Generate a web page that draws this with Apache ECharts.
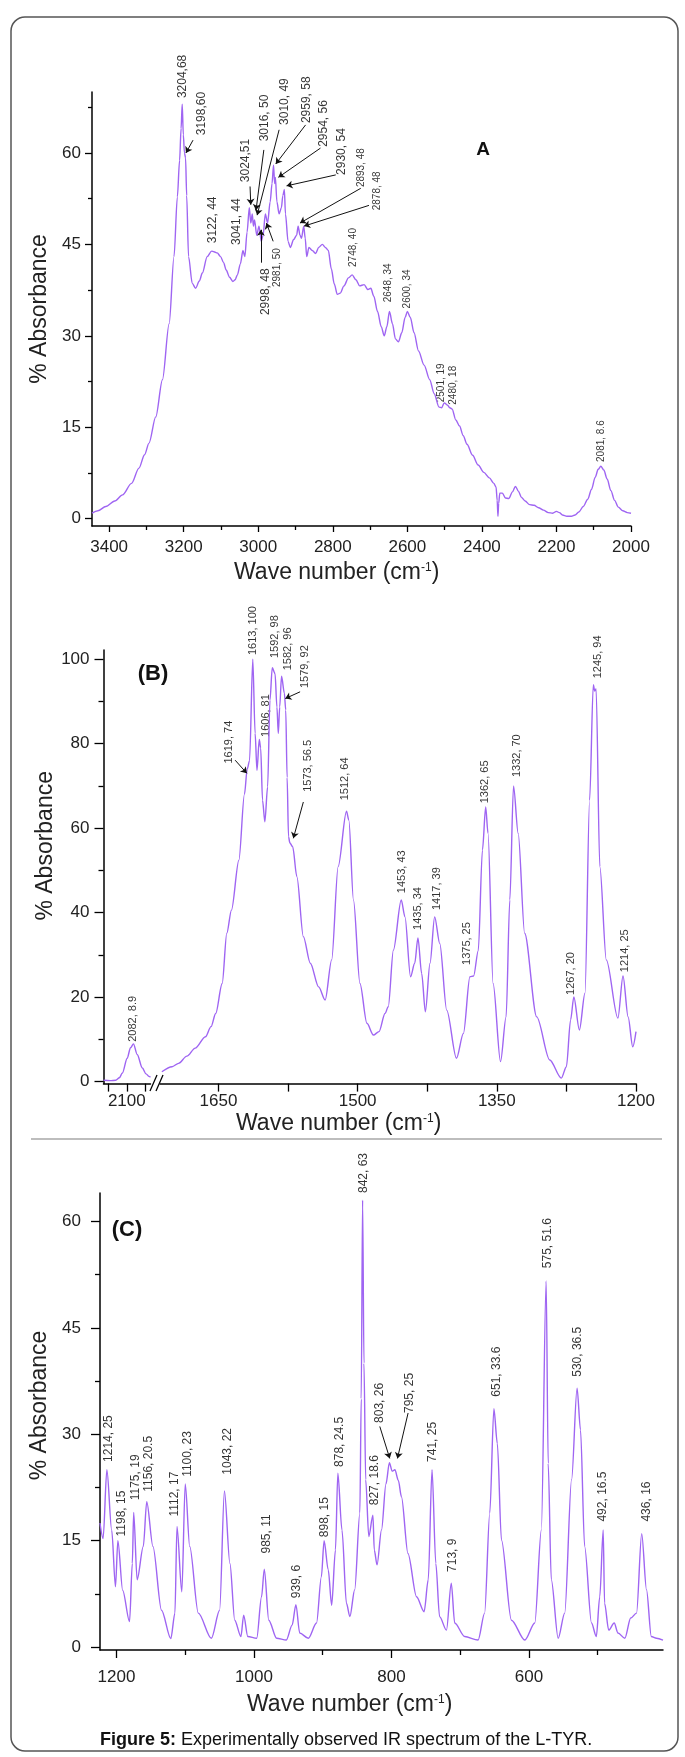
<!DOCTYPE html>
<html>
<head>
<meta charset="utf-8">
<title>Figure 5 - IR spectrum of L-TYR</title>
<script src="https://cdn.jsdelivr.net/npm/echarts@6/dist/echarts.min.js"></script>
<style>
    html, body { margin: 0; padding: 0; background: #fff; }
    #chart { width: 685px; height: 1757px; }
</style>
</head>
<body>
<div id="chart"></div>
<script>
var FONT = 'Arial, "Liberation Sans", sans-serif';
var LINE = '#9f65f2';

/* ---- panel A : 3446 - 2000 cm-1, [wave number, % absorbance] ---- */
var specA = [
    [3446,0.9],[3430,1.3],[3409,2],[3385,2.9],[3364,3.9],[3340,5.8],[3320,8.3],[3305,10.5],[3293,12.4],
    [3275,16.7],[3257,22.8],[3239,32],[3226,43],[3217,52.8],[3211,58.8],[3207,64],[3204,68],[3201,63],
    [3198,60],[3195,59.2],[3192,53],[3187,43],[3177,38.6],[3168,37.8],[3158,39],[3150,40.3],[3137,43],
    [3125,43.9],[3119,43.8],[3110,43.6],[3101,43],[3093,42],[3086,40.8],[3077,39.6],[3068,38.9],[3062,39.2],
    [3056,40],[3048,41.8],[3041,44],[3036,43],[3030,47],[3024,51],[3020,48.5],[3016,50],[3013,48],[3010,49],
    [3004,46.5],[2998,48],[2992,45.5],[2987,46.5],[2981,50],[2975,48.5],[2968,52],[2963,55],[2959,58],
    [2956,55],[2954,56],[2950,52],[2944,50],[2938,51],[2934,53],[2930,54],[2927,50],[2920,45.5],[2914,44.5],
    [2905,45.8],[2897,46.5],[2893,48],[2888,46.5],[2884,46],[2878,48],[2874,46],[2870,43],[2864,44.5],
    [2855,44],[2846,43.5],[2838,44.5],[2828,45],[2820,44.5],[2812,44],[2804,41],[2796,38.5],[2788,36.8],
    [2780,37],[2770,38.2],[2758,39.5],[2748,40],[2738,39.2],[2728,38.2],[2716,38.4],[2706,37.6],[2698,37.8],
    [2690,36.5],[2680,34],[2670,31.5],[2662,30],[2655,31.5],[2648,34],[2640,32],[2632,29.5],[2624,29],
    [2615,30.5],[2606,33],[2600,34],[2592,33],[2582,30.5],[2570,27.5],[2555,25.2],[2540,22.8],[2528,20.5],
    [2515,18.3],[2508,18.2],[2501,19],[2492,18.6],[2486,18.2],[2480,18],[2470,16.2],[2460,15.2],[2450,13.6],
    [2440,12.2],[2425,10.4],[2410,8.8],[2395,7.6],[2380,6.7],[2368,5.8],[2362,5.2],[2359,3],[2357,0.4],
    [2355,2.5],[2352,4.2],[2345,4.2],[2337,3.4],[2328,3.3],[2318,4.4],[2310,5.3],[2302,4.5],[2294,3.5],
    [2284,2.9],[2272,2.3],[2260,2.2],[2248,1.8],[2235,1.4],[2222,1],[2210,0.9],[2200,1.2],[2192,1],
    [2184,0.6],[2172,0.4],[2160,0.4],[2150,0.6],[2140,1.1],[2128,2],[2116,3.2],[2106,4.8],[2096,6.8],
    [2088,8.1],[2081,8.6],[2073,8],[2064,6.5],[2054,4.6],[2044,3],[2034,1.9],[2022,1.3],[2010,1],[2000,0.9]
];
// [wave number, absorbance at the foot of the text, text]
var labelsA = [
    [3204,69,'3204,68'],[3151,62.9,'3198,60'],[3121,45.2,'3122, 44'],[3057,44.9,'3041, 44'],
    [3033,55.2,'3024,51'],[2982,61.9,'3016, 50'],[2928,64.6,'3010, 49'],[2869,64.9,'2959, 58'],
    [2824,61,'2954, 56'],[2776,56.4,'2930, 54'],[2980,33.4,'2998, 48']
];
var smallLabelsA = [
    [2725,54.4,'2893, 48'],[2682,50.6,'2878, 48'],[2950,38,'2981, 50'],[2746,41.3,'2748, 40'],
    [2652,35.5,'2648, 34'],[2601,34.5,'2600, 34'],[2510,19.1,'2501, 19'],[2478,18.7,'2480, 18'],
    [2080,9.3,'2081, 8.6']
];
// [from wave, from abs, to wave, to abs]
var arrowsA = [
    [3175,62.1,3194,60],[3022,54.5,3020,51.5],[2985,60.5,3006,50.6],[2944,63.8,3003,49.8],
    [2873,64.6,2953,58.2],[2833,60.8,2946,56],[2792,56.4,2924,54.6],[2725,54.2,2888,48.5],
    [2703,51.4,2877,48],[2993,42,2993,47.4],[2960,45.5,2978,48.5]
];
var ticksAx = [2000,2200,2400,2600,2800,3000,3200,3400];
var minorAx = [2100,2300,2500,2700,2900,3100,3300];
var ticksAy = [0,15,30,45,60];
var minorAy = [7.5,22.5,37.5,52.5,67.5];

/* ---- panel B : broken axis 2163 - 2036 | 1713 - 1200 cm-1 ---- */
var specBLeft = [
    [2163,0.3],[2145,0.2],[2130,0.3],[2120,0.9],[2112,2],[2099,5.5],[2090,8],[2082,8.9],[2072,6.4],
    [2058,3.2],[2048,1.8],[2040,1.2],[2036,1]
];
var specB = [
    [1711,2.3],[1700,3.5],[1693,4.3],[1684,6],[1675,7.9],[1664,10.6],[1658,13],[1653,16.1],[1646,23.2],
    [1641,35.1],[1636,40.6],[1628,52.4],[1622,68],[1619,74],[1616.5,76],[1613,100],[1610.5,82.5],
    [1608.5,73.7],[1606,81],[1604.5,79],[1602.5,66.6],[1600,61.5],[1597,69.8],[1594.5,90.3],[1592,98],
    [1589,96.6],[1587,88.7],[1585.5,82.4],[1584,88.7],[1582,96],[1579,92],[1577.5,88],[1576,72],
    [1574.5,58],[1573,56.5],[1570,55.6],[1565.5,48.5],[1558.5,34.3],[1551,28],[1542,22.4],[1535,19.3],
    [1528,28.8],[1521,50.9],[1512,64],[1509.5,61.9],[1504.5,43],[1497.5,23.2],[1490,13.8],[1483,11],
    [1477,11.8],[1470.5,16.1],[1467,17.7],[1461.5,31.1],[1453,43],[1449,39],[1443,24.8],[1438.5,28],
    [1435,34],[1431,25.6],[1427,16.5],[1422,28],[1417,39],[1411.5,32.7],[1404,16.9],[1393.5,5.5],
    [1386,11.4],[1379,24.8],[1375,25],[1370,31],[1365.5,54.8],[1362,65],[1359.5,58.8],[1354,23.2],
    [1346,4.7],[1340,15.3],[1336,43],[1332,70],[1327,58.8],[1320,35.1],[1307,15.3],[1293,5.1],
    [1280.5,0.8],[1275,3.5],[1270.5,14.6],[1267,20],[1261,12.2],[1255,20.9],[1250,66.6],[1246,94],
    [1244.5,92.5],[1243,93],[1239,50.9],[1232,28.8],[1219.5,15],[1214,25],[1208.5,15.3],[1203.5,8.2],
    [1200,11.8]
];
var labelsBLeft = [[2083,9.4,'2082, 8.9']];
var labelsB = [
    [1639,75.3,'1619, 74'],[1613,101,'1613, 100'],[1599,81.6,'1606, 81'],[1589,100.3,'1592, 98'],
    [1575.3,97.4,'1582, 96'],[1556.7,93.2,'1579, 92'],[1553,68.6,'1573, 56.5'],[1513.6,66.6,'1512, 64'],
    [1452.6,44.6,'1453, 43'],[1434.7,35.9,'1435, 34'],[1415,40.6,'1417, 39'],[1382.6,27.6,'1375, 25'],
    [1363,65.9,'1362, 65'],[1328.8,72.1,'1332, 70'],[1269.6,20.5,'1267, 20'],[1241,95.5,'1245, 94'],
    [1212,25.9,'1214, 25']
];
var arrowsB = [[1632,76.1,1619.4,73],[1562,92.3,1578,90.7],[1558.5,66.2,1569.3,57.6]];
var ticksBLeftX = [2050,2100,2150];
var labelsBLeftX = [2100];
var ticksBx = [1200,1275,1350,1425,1500,1575,1650];
var labelsBx = [1200,1350,1500,1650];
var ticksBy = [0,20,40,60,80,100];
var minorBy = [10,30,50,70,90];

/* ---- panel C : 1224 - 405 cm-1 ---- */
var specC = [
    [1224,17.5],[1219.5,15.3],[1214,25],[1207,16.5],[1201.5,8.5],[1198,15],[1191,8],[1181,3.6],[1177,11.8],
    [1175,19],[1170,9.5],[1161,14.2],[1156,20.5],[1147,14.2],[1134.5,5.2],[1121,1.2],[1115,4.8],[1112,17],
    [1105,7.8],[1100,23],[1093.5,14.2],[1081,4.8],[1062,1.25],[1050,5.2],[1043,22],[1035,11.8],[1028,3.8],
    [1019,1.5],[1015,4.5],[1009,1.5],[996,1.25],[989,7.1],[985,11],[978.5,3.8],[967,1.25],[953,1],
    [944.5,3.1],[939,6],[933.5,2],[921,1.25],[909,3.4],[902,9.9],[898,15],[892,10.9],[887,5.9],[881.5,13.7],
    [878,24.5],[872,16.5],[865.5,6.2],[860.5,4.3],[853.5,8.1],[846,18.9],[844,35],[842,63],[840,40],
    [837.5,23.6],[833,15.6],[827,18.6],[825,13.7],[821,11.6],[814.5,16.5],[808,23],[803,26],[799,24.8],
    [795,25],[790,23.5],[785.5,21.2],[776,13.2],[763.5,7.1],[752.5,5],[746.5,9.5],[741,25],[735.5,11.8],
    [730,4.3],[720,2.4],[713,9],[708,3.4],[693.5,1.5],[674,1],[664.5,4.8],[657,18.9],[651,33.6],[646,28.7],
    [640,15.1],[625.5,3.8],[606,1],[591.5,3.4],[582,16.5],[575,51.6],[572,25.9],[567.5,9.5],[557.5,1.25],
    [548,4.8],[538,23.6],[530,36.5],[525,30.6],[519,14.2],[509,3.4],[502,1.5],[497,7.1],[492,16.5],
    [490,6.2],[484,2.4],[476,3.4],[470.5,2],[460.5,1.25],[452,4.1],[443.5,4.8],[436,16],[429,8.1],
    [422,1.5],[414.5,1.25],[405,1]
];
var labelsC = [
    [1211,26.1,'1214, 25'],[1192.7,15.6,'1198, 15'],[1172.4,20.7,'1175, 19'],[1153,21.9,'1156, 20.5'],
    [1115.2,18.4,'1112, 17'],[1095.8,24,'1100, 23'],[1037.7,24.3,'1043, 22'],[981.8,13.2,'985, 11'],
    [938,6.9,'939, 6'],[897,15.5,'898, 15'],[875,25.4,'878, 24.5'],[840.7,64,'842, 63'],
    [824.3,20,'827, 18.6'],[817,31.6,'803, 26'],[773,33,'795, 25'],[739.5,26.1,'741, 25'],
    [710.4,10.6,'713, 9'],[647.5,35.3,'651, 33.6'],[572.2,53.4,'575, 51.6'],[529.4,38.1,'530, 36.5'],
    [492.2,17.7,'492, 16.5'],[429,17.7,'436, 16']
];
var arrowsC = [[817,31.1,802.5,26.6],[775.8,33,791.3,26.6]];
var ticksCx = [600,800,1000,1200];
var minorCx = [500,700,900,1100];
var ticksCy = [0,15,30,45,60];
var minorCy = [7.5,22.5,37.5,52.5];


function plain(v) { return String(v); }

function xAxisOf(grid, min, max, ticks, labels, tickLen, margin, hideLine) {
    return {
        type: 'value', gridIndex: grid, position: 'bottom', min: min, max: max, inverse: true,
        axisLine: { show: !hideLine, onZero: false, lineStyle: { color: '#000', width: 1.5 } },
        axisTick: { show: true, length: tickLen, customValues: ticks, lineStyle: { color: '#000', width: 1.3 } },
        axisLabel: { show: !!labels, customValues: labels || [], margin: margin, formatter: plain,
            fontSize: 17, color: '#222', fontFamily: FONT },
        splitLine: { show: false }
    };
}

function yAxisOf(grid, min, max, ticks, labels, tickLen, margin, name, gap, shift) {
    var ax = {
        type: 'value', gridIndex: grid, position: 'left', min: min, max: max,
        axisLine: { show: !!labels, onZero: false, lineStyle: { color: '#000', width: 1.5 } },
        axisTick: { show: true, length: tickLen, customValues: ticks, lineStyle: { color: '#000', width: 1.3 } },
        axisLabel: { show: !!labels, customValues: labels || [], margin: margin, formatter: plain,
            fontSize: 17, color: '#222', fontFamily: FONT },
        splitLine: { show: false }
    };
    if (name) {
        ax.name = name;
        ax.nameLocation = 'middle';
        ax.nameGap = gap;
        ax.nameTextStyle = { fontSize: 23, color: '#222', fontFamily: FONT, padding: [0, 0, 0, shift || 0] };
    }
    return ax;
}

function spectrum(xi, yi, data) {
    return {
        type: 'line', xAxisIndex: xi, yAxisIndex: yi, data: data, showSymbol: false, silent: true,
        smooth: 0.3, smoothMonotone: 'x',
        lineStyle: { color: LINE, width: 1.4 }
    };
}

function peakLabels(xi, yi, list, size, arrows) {
    var s = {
        type: 'scatter', xAxisIndex: xi, yAxisIndex: yi, symbolSize: 1, clip: false, silent: true,
        itemStyle: { color: 'rgba(0,0,0,0)' },
        data: list.map(function (d) { return { value: [d[0], d[1]], name: d[2] }; }),
        label: {
            show: true, formatter: '{b}', position: 'inside', rotate: 90,
            align: 'left', verticalAlign: 'middle',
            fontSize: size, color: '#000', fontFamily: FONT
        }
    };
    if (arrows) {
        s.markLine = {
            silent: true, symbol: ['none', 'arrow'], symbolSize: 6,
            label: { show: false },
            lineStyle: { color: '#111', width: 1, type: 'solid' },
            data: arrows.map(function (a) {
                return [{ coord: [a[0], a[1]] }, { coord: [a[2], a[3]] }];
            })
        };
    }
    return s;
}

var axisTitleRich = {
    n: { fontSize: 23, fontWeight: 'normal', color: '#222', fontFamily: FONT, lineHeight: 26 },
    s: { fontSize: 12, fontWeight: 'normal', color: '#222', fontFamily: FONT, lineHeight: 26,
        verticalAlign: 'top', padding: [2, 0, 0, 0] }
};
var axisTitle = '{n|Wave number (cm}{s|-1}{n|)}';

function tag(x, y, text, size) {
    return {
        type: 'text', x: x, y: y, silent: true, z: 100,
        style: { text: text, font: 'bold ' + size + 'px ' + FONT, fill: '#111',
            textAlign: 'center', textVerticalAlign: 'middle', align: 'center', verticalAlign: 'middle' }
    };
}

var chart = echarts.init(document.getElementById('chart'));

var option = {
    animation: false,
    backgroundColor: '#fff',
    title: [
        { text: axisTitle, left: 229, top: 555, textStyle: { fontWeight: 'normal', rich: axisTitleRich } },
        { text: axisTitle, left: 231, top: 1106, textStyle: { fontWeight: 'normal', rich: axisTitleRich } },
        { text: axisTitle, left: 242, top: 1687, textStyle: { fontWeight: 'normal', rich: axisTitleRich } },
        {
            text: '{b|Figure 5:}{r| Experimentally observed IR spectrum of the L-TYR.}',
            left: 95, top: 1726,
            textStyle: { fontWeight: 'normal', rich: {
                b: { fontSize: 18, fontWeight: 'bold', color: '#111', fontFamily: FONT },
                r: { fontSize: 18, fontWeight: 'normal', color: '#111', fontFamily: FONT }
            } }
        }
    ],
    graphic: { elements: [
        { type: 'rect', silent: true, z: 100, shape: { x: 11, y: 17, width: 667, height: 1734, r: 14 },
            style: { fill: 'none', stroke: '#555', lineWidth: 1.5 } },
        { type: 'line', silent: true, z: 100, shape: { x1: 31, y1: 1139, x2: 662, y2: 1139 },
            style: { stroke: '#bdbdbd', lineWidth: 2 } },
        { type: 'line', silent: true, z: 100, shape: { x1: 150, y1: 1091, x2: 157, y2: 1075 },
            style: { stroke: '#000', lineWidth: 1.3 } },
        { type: 'line', silent: true, z: 100, shape: { x1: 156, y1: 1091, x2: 163, y2: 1075 },
            style: { stroke: '#000', lineWidth: 1.3 } },
        tag(483, 150, 'A', 19),
        tag(153, 674, '(B)', 22),
        tag(127, 1230, '(C)', 22)
    ] },
    grid: [
        { left: 92, top: 92, width: 539, height: 434, outerBoundsMode: 'none' },
        { left: 103.5, top: 650, width: 47, height: 433.6, outerBoundsMode: 'none' },
        { left: 160, top: 650, width: 476, height: 433.6, outerBoundsMode: 'none' },
        { left: 100, top: 1193, width: 563, height: 457, outerBoundsMode: 'none' }
    ],
    xAxis: [
        xAxisOf(0, 2000, 3446, ticksAx, ticksAx, 6, 13),
        xAxisOf(0, 2000, 3446, minorAx, null, 4, 0, true),
        xAxisOf(1, 2036, 2163, ticksBLeftX, labelsBLeftX, 8, 9),
        xAxisOf(2, 1200, 1713, ticksBx, labelsBx, 8, 9),
        xAxisOf(3, 405, 1224, ticksCx, ticksCx, 8, 19),
        xAxisOf(3, 405, 1224, minorCx, null, 5, 0, true)
    ],
    yAxis: [
        yAxisOf(0, -1.2, 70, ticksAy, ticksAy, 7, 11, '% Absorbance', 36, 0),
        yAxisOf(0, -1.2, 70, minorAy, null, 4, 0),
        yAxisOf(1, -0.5, 102.2, ticksBy, ticksBy, 9, 14, '% Absorbance', 42, 42),
        yAxisOf(1, -0.5, 102.2, minorBy, null, 5, 0),
        { type: 'value', gridIndex: 2, min: -0.5, max: 102.2, show: false },
        yAxisOf(3, -0.4, 64, ticksCy, ticksCy, 9, 19, '% Absorbance', 38, 32),
        yAxisOf(3, -0.4, 64, minorCy, null, 5, 0)
    ],
    series: [
        spectrum(0, 0, specA),
        peakLabels(0, 0, labelsA, 12, arrowsA),
        peakLabels(0, 0, smallLabelsA, 10),
        spectrum(2, 2, specBLeft),
        peakLabels(2, 2, labelsBLeft, 11),
        spectrum(3, 4, specB),
        peakLabels(3, 4, labelsB, 11, arrowsB),
        spectrum(4, 5, specC),
        peakLabels(4, 5, labelsC, 12, arrowsC)
    ]
};

chart.setOption(option);
</script>
</body>
</html>
